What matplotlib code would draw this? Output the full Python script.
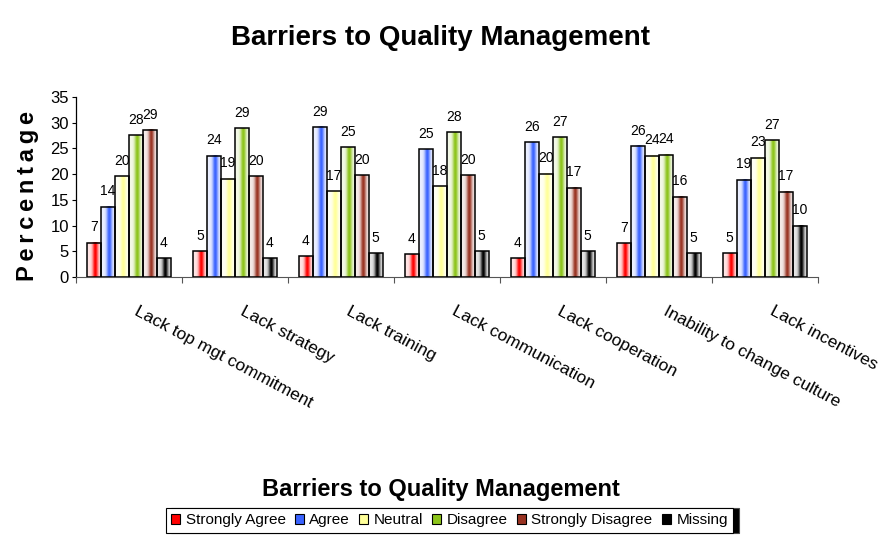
import matplotlib.pyplot as plt
import numpy as np
from matplotlib.colors import to_rgb
from matplotlib.patches import Rectangle


FILE = 'out.png'

CATEGORIES = ['Lack top mgt commitment', 'Lack strategy', 'Lack training', 'Lack communication',
              'Lack cooperation', 'Inability to change culture', 'Lack incentives']
RESPONSES = ['Strongly Agree', 'Agree', 'Neutral', 'Disagree', 'Strongly Disagree', 'Missing']

# Percentage of respondents per barrier, one list per response
STRONGLY_AGREE = [6.7, 5.0, 4.0, 4.4, 3.6, 6.6, 4.6]
AGREE = [13.7, 23.6, 29.2, 24.8, 26.2, 25.5, 18.9]
NEUTRAL = [19.6, 19.1, 16.7, 17.6, 20.1, 23.6, 23.2]
DISAGREE = [27.6, 28.9, 25.2, 28.1, 27.2, 23.8, 26.6]
STRONGLY_DISAGREE = [28.6, 19.6, 19.8, 19.8, 17.4, 15.6, 16.6]
MISSING = [3.6, 3.6, 4.6, 5.0, 5.0, 4.6, 10.0]

COLORS = ['#ff0000', '#3a63ff', '#ffff99', '#8cc41a', '#993322', '#000000']

TITLE = 'Barriers to Quality Management'

FONT = ['Liberation Sans Narrow', 'Liberation Sans', 'DejaVu Sans']


def gradient(color, n=64):
    # white edges, full colour just right of centre
    t = np.linspace(0, 1, n)
    w = np.exp(-((t - 0.6) / 0.2) ** 2)
    w = 0.1 + 0.9 * w
    c = np.array(to_rgb(color))
    return 1 - w[:, None] * (1 - c[None, :])


def main():
    series = [STRONGLY_AGREE, AGREE, NEUTRAL, DISAGREE, STRONGLY_DISAGREE, MISSING]

    fig = plt.figure(figsize=(8.83, 5.42), dpi=100)
    ax = fig.add_axes([0.086, 0.489, 0.840, 0.332])

    x = np.arange(len(CATEGORIES))
    width = 0.132

    for i, (values, color) in enumerate(zip(series, COLORS)):
        pos = x + (i - 2.5) * width
        bars = ax.bar(pos, values, width, facecolor='none', edgecolor='black',
                      linewidth=1.1, zorder=3)
        grad = gradient(color)[None, :, :]
        for bar, v in zip(bars, values):
            x0 = bar.get_x()
            ax.imshow(grad, extent=[x0, x0 + width, 0, v], aspect='auto',
                      interpolation='bilinear', zorder=2)
            ax.annotate(f'{v:.0f}', (x0 + width / 2, v), xytext=(0, 6),
                        textcoords='offset points', ha='center', va='bottom',
                        fontsize=10, family=FONT)

    ax.set_xlim(-0.5, len(CATEGORIES) - 0.5)
    ax.set_ylim(0, 35)
    ax.set_yticks(range(0, 36, 5))
    ax.set_xticks(np.arange(-0.5, len(CATEGORIES), 1.0))
    ax.set_xticklabels([])
    ax.tick_params(axis='x', direction='out', length=4, color='#555555')
    ax.tick_params(axis='y', direction='out', length=3, labelsize=12, pad=2)
    for label in ax.get_yticklabels():
        label.set_family(FONT)

    ax.spines['top'].set_visible(False)
    ax.spines['right'].set_visible(False)
    ax.spines['bottom'].set_color('#555555')
    ax.spines['left'].set_linewidth(0.9)

    # Rotated category labels starting below each group centre
    for i, name in enumerate(CATEGORIES):
        ax.annotate(name, (i, 0), xycoords=('data', 'axes fraction'), xytext=(7, -19),
                    textcoords='offset points', ha='left', va='top', rotation=-28,
                    rotation_mode='anchor', fontsize=12.5, family=FONT)

    fig.text(0.031, 0.638, '\u2009'.join('Percentage'), rotation=90, ha='center', va='center',
             fontsize=17, fontweight='bold', family=['Liberation Sans', 'DejaVu Sans'])

    fig.text(0.499, 0.93, TITLE, ha='center', va='center', fontsize=20,
             fontweight='bold', family=FONT)
    fig.text(0.499, 0.097, TITLE, ha='center', va='center', fontsize=17,
             fontweight='bold', family=FONT)

    handles = [Rectangle((0, 0), 1, 1, facecolor=c, edgecolor='black', linewidth=0.8)
               for c in COLORS]
    leg = fig.legend(handles, RESPONSES, loc='upper center', bbox_to_anchor=(0.509, 0.063),
                     ncol=6, fontsize=11, frameon=True, fancybox=False, edgecolor='black',
                     handlelength=0.6, handleheight=0.7, handletextpad=0.35,
                     columnspacing=0.6, borderpad=0.35, borderaxespad=0,
                     shadow={'ox': 4, 'oy': 0, 'facecolor': 'black', 'alpha': 1})
    leg.get_frame().set_linewidth(0.8)
    for text in leg.get_texts():
        text.set_family(FONT)

    fig.savefig(FILE, dpi=100)


if __name__ == '__main__':
    main()
